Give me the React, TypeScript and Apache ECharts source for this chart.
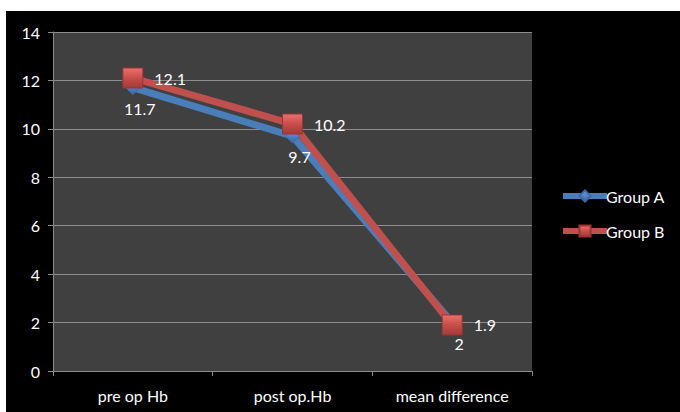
import React, { useEffect, useRef } from "react";
import * as echarts from "echarts";

const categories = ["pre op Hb", "post op.Hb", "mean difference"];
const groupA = [11.7, 9.7, 2];
const groupB = [12.1, 10.2, 1.9];
const seriesNames = ["Group A", "Group B"];

const FONT = "Lato, 'Open Sans', sans-serif";

export default function App() {
  const ref = useRef<HTMLDivElement>(null);
  useEffect(() => {
    if (!ref.current) return;
    const chart = echarts.init(ref.current, null, { renderer: "svg" });
    const redGrad = new echarts.graphic.LinearGradient(0, 0, 0, 1, [
      { offset: 0, color: "#e8716e" },
      { offset: 0.5, color: "#c84e4b" },
      { offset: 1, color: "#a33936" },
    ]);
    const blueGrad = new echarts.graphic.LinearGradient(0, 0, 0, 1, [
      { offset: 0, color: "#6d9de0" },
      { offset: 1, color: "#3567a8" },
    ]);
    chart.setOption({
      animation: false,
      backgroundColor: "#000000",
      textStyle: { fontFamily: FONT },
      grid: {
        left: 47,
        top: 21,
        right: 148,
        bottom: 41,
        show: true,
        backgroundColor: "#404040",
        borderWidth: 0,
      },
      legend: {
        orient: "vertical",
        left: 549,
        top: 172,
        itemWidth: 44,
        itemHeight: 14,
        itemGap: 19,
        data: seriesNames,
        lineStyle: { width: 6 },
        textStyle: { color: "#ffffff", fontSize: 16, fontFamily: FONT, padding: [0, 0, 0, -6] },
      },
      xAxis: {
        type: "category",
        data: categories,
        boundaryGap: true,
        axisLine: { show: true, lineStyle: { color: "#8a8a8a", width: 1 } },
        axisTick: { show: true, length: 5, lineStyle: { color: "#8a8a8a" } },
        axisLabel: { color: "#ffffff", fontSize: 16, margin: 16, fontFamily: FONT },
        splitLine: { show: false },
      },
      yAxis: {
        type: "value",
        min: 0,
        max: 14,
        interval: 2,
        axisLine: { show: true, lineStyle: { color: "#8a8a8a", width: 1 } },
        axisTick: { show: true, length: 5, lineStyle: { color: "#8a8a8a" } },
        axisLabel: { color: "#ffffff", fontSize: 16, margin: 13, fontFamily: FONT },
        splitLine: { show: true, lineStyle: { color: "#8c8c8c", width: 1 } },
      },
      series: [
        {
          name: seriesNames[0],
          type: "line",
          data: groupA,
          symbol: "diamond",
          symbolSize: 14,
          lineStyle: { color: "#4a7ebb", width: 7 },
          itemStyle: { color: blueGrad, borderColor: "#3a6aa5", borderWidth: 1 },
          label: {
            show: true,
            position: "bottom",
            distance: 5,
            offset: [7, 0],
            color: "#ffffff",
            fontSize: 16,
            fontFamily: FONT,
          },
        },
        {
          name: seriesNames[1],
          type: "line",
          data: groupB,
          symbol: "rect",
          symbolSize: 20,
          lineStyle: { color: "#c0504d", width: 7 },
          itemStyle: { color: redGrad, borderColor: "#9c3431", borderWidth: 1 },
          label: {
            show: true,
            position: "right",
            distance: 11,
            color: "#ffffff",
            fontSize: 16,
            fontFamily: FONT,
          },
        },
      ],
    });
    return () => chart.dispose();
  }, []);
  return (
    <div
      ref={ref}
      style={{ position: "absolute", left: 6, top: 11, width: 674, height: 401, background: "#000" }}
    />
  );
}
